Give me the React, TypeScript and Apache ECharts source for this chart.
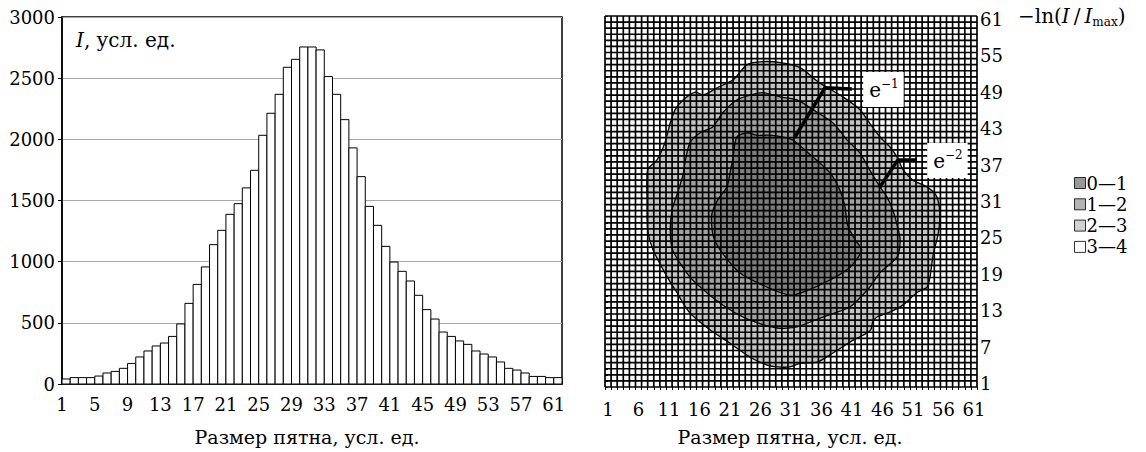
import React, { useEffect, useRef } from 'react';
import * as echarts from 'echarts';

const FONT = '"DejaVu Serif", "Liberation Serif", serif';
const FS = 18;

// Left histogram: spot size 1..61 and intensity (arb. units)
const SIZE_CATEGORIES = Array.from({ length: 61 }, (_, i) => String(i + 1));
const INTENSITY = [
  41, 52, 52, 52, 65, 90, 103, 128, 168, 221,
  270, 311, 335, 389, 491, 659, 814, 957, 1139, 1256,
  1387, 1474, 1603, 1747, 2033, 2213, 2368, 2589, 2654, 2755,
  2755, 2731, 2513, 2368, 2161, 1930, 1695, 1452, 1297, 1125,
  997, 921, 842, 725, 608, 531, 425, 389, 352, 324,
  270, 245, 221, 180, 128, 114, 90, 62, 62, 52, 52,
];
const Y_MAX = 3000;
const Y_STEP = 500;

// Right contour map: boundaries (in cell units, 0..61) of the -ln(I/Imax) levels
const LEVEL_NAMES = ['0—1', '1—2', '2—3', '3—4'];
const LEVEL_COLORS = ['#7e7e7e', '#a2a2a2', '#c6c6c6', '#ffffff'];
const CONTOUR_2 = [
  [25.9, 53.5], [29.0, 53.3], [32.0, 52.5], [35.2, 50.0], [39.0, 47.7], [41.8, 45.6],
  [43.4, 43.4], [45.1, 41.1], [46.7, 39.5], [47.9, 37.8], [48.9, 35.7], [50.5, 34.0],
  [52.8, 32.9], [54.4, 31.3], [54.9, 28.3], [54.6, 25.0], [53.8, 21.7], [53.3, 18.1],
  [52.8, 16.4], [51.1, 15.5], [48.9, 13.5], [46.7, 12.3], [44.6, 11.5], [43.9, 10.7],
  [43.6, 9.4], [43.0, 8.9], [40.7, 7.7], [37.4, 5.6], [34.8, 4.1], [32.0, 3.9],
  [30.3, 3.3], [28.2, 3.3], [26.6, 3.6], [23.8, 4.9], [20.5, 7.2], [17.2, 9.4],
  [13.9, 12.2], [11.8, 15.5], [10.2, 18.1], [7.9, 22.5], [7.0, 25.8], [6.9, 30.8],
  [7.0, 35.7], [8.5, 37.3], [9.8, 40.1], [10.7, 43.4], [11.5, 45.6], [12.8, 47.2],
  [14.8, 48.5], [16.1, 48.0], [18.4, 49.2], [21.0, 50.5], [23.3, 53.0],
];
const CONTOUR_1 = [
  [23.8, 48.0], [25.9, 48.4], [28.7, 47.7], [31.5, 47.2], [34.1, 45.6], [37.4, 43.4],
  [39.7, 40.6], [41.8, 38.5], [43.4, 35.7], [45.1, 32.9], [46.2, 31.3], [47.2, 29.1],
  [47.9, 26.6], [48.4, 24.2], [47.9, 21.4], [45.1, 18.8], [43.4, 16.4], [40.2, 13.2],
  [35.7, 11.5], [31.5, 9.9], [28.2, 9.7], [23.8, 11.0], [20.5, 12.7], [17.2, 15.1],
  [13.9, 18.1], [11.1, 22.5], [10.7, 25.8], [11.0, 29.1], [11.8, 31.6], [12.8, 34.9],
  [13.1, 36.8], [13.9, 40.1], [15.6, 41.8], [17.7, 42.8], [19.3, 45.1], [21.6, 47.2],
];
const CONTOUR_0 = [
  [23.3, 41.8], [24.9, 41.4], [27.0, 41.4], [29.2, 41.1], [30.8, 40.6], [34.1, 37.8],
  [36.9, 35.2], [38.5, 32.4], [39.3, 29.9], [39.8, 26.6], [41.0, 24.2], [42.1, 22.5],
  [40.2, 19.7], [36.9, 17.6], [32.5, 15.6], [30.3, 15.1], [26.6, 16.4], [22.1, 18.8],
  [18.9, 22.5], [17.7, 25.0], [17.5, 28.3], [18.5, 30.8], [20.0, 32.9], [20.5, 35.2],
  [21.0, 37.8], [21.6, 41.1],
];
// annotation leaders and label anchors (cell units)
const LEADER_E1 = [[31.15, 41.1], [36.07, 49.18], [40.49, 49.01]];
const LEADER_E2 = [[45.08, 32.89], [48.03, 37.34], [51.15, 37.34]];
const LABEL_E1 = [45.66, 48.9];
const LABEL_E2 = [56.15, 37.25];
const MAP_N = 61;

export default function App() {
  const ref = useRef<HTMLDivElement>(null);
  useEffect(() => {
    if (!ref.current) return;
    const chart = echarts.init(ref.current, null, { renderer: 'svg' });

    const supRich = {
      e: { fontSize: 20, fontFamily: FONT, color: '#000', lineHeight: 24 },
      s: { fontSize: 12, fontFamily: FONT, color: '#000', verticalAlign: 'top', lineHeight: 13 },
    };

    const option: any = {
      animation: false,
      backgroundColor: '#fff',
      textStyle: { fontFamily: FONT },
      grid: [
        { left: 62, top: 17, width: 500, height: 367, show: true, borderColor: '#000', borderWidth: 1.5, backgroundColor: 'transparent' },
        { left: 605, top: 16, width: 372, height: 371, show: false },
      ],
      xAxis: [
        {
          gridIndex: 0, type: 'value', min: 0, max: SIZE_CATEGORIES.length, interval: 4,
          axisLine: { show: true, lineStyle: { color: '#000', width: 1.5 } },
          axisTick: { show: true, inside: true, length: 3, lineStyle: { color: '#000' } },
          axisLabel: {
            fontSize: FS, fontFamily: FONT, color: '#000', margin: 11,
            formatter: (v: number) => (v % 4 === 0 && v < SIZE_CATEGORIES.length ? SIZE_CATEGORIES[v] : ''),
          },
          splitLine: { show: false },
        },
        {
          gridIndex: 1, type: 'value', min: 0, max: MAP_N, interval: 1,
          axisLine: { show: false },
          axisTick: { show: true, length: 3, lineStyle: { color: '#000', width: 1 } },
          axisLabel: { show: false },
          splitLine: { show: false },
        },
        {
          gridIndex: 1, type: 'category', position: 'bottom', data: SIZE_CATEGORIES,
          axisLine: { show: false }, axisTick: { show: false },
          axisLabel: { interval: 4, fontSize: FS, fontFamily: FONT, color: '#000', margin: 13 },
          splitLine: { show: false },
        },
      ],
      yAxis: [
        {
          gridIndex: 0, type: 'value', min: 0, max: Y_MAX, interval: Y_STEP,
          axisLine: { show: true, lineStyle: { color: '#000', width: 1.5 } },
          axisTick: { show: true, length: 4, lineStyle: { color: '#000' } },
          axisLabel: { fontSize: FS, fontFamily: FONT, color: '#000', margin: 7, formatter: (v: number) => String(v) },
          splitLine: { show: true, lineStyle: { color: '#a8a8a8', width: 1 } },
        },
        {
          gridIndex: 1, type: 'value', min: 0, max: MAP_N, interval: 1, position: 'right',
          axisLine: { show: false },
          axisTick: { show: true, length: 3, lineStyle: { color: '#000', width: 1 } },
          axisLabel: { show: false },
          splitLine: { show: false },
        },
        {
          gridIndex: 1, type: 'category', position: 'right', data: SIZE_CATEGORIES,
          axisLine: { show: false }, axisTick: { show: false },
          axisLabel: { interval: 5, fontSize: FS, fontFamily: FONT, color: '#000', margin: 3 },
          splitLine: { show: false },
        },
      ],
      legend: {
        orient: 'vertical', left: 1074, top: 174, padding: 0, icon: 'rect', itemWidth: 11, itemHeight: 11, itemGap: 3.3,
        selectedMode: false,
        itemStyle: { borderColor: '#000', borderWidth: 1 },
        textStyle: { fontFamily: FONT, fontSize: FS, color: '#000', padding: [0, 0, 0, -4] },
        data: LEVEL_NAMES,
      },
      graphic: [
        {
          type: 'text', left: 76, top: 30,
          style: {
            text: '{i|I}{n|, усл. ед.}',
            rich: {
              i: { fontSize: 20, fontFamily: FONT, fontStyle: 'italic', fill: '#000' },
              n: { fontSize: 20, fontFamily: FONT, fill: '#000' },
            },
          },
        },
        {
          type: 'text', left: 1018, top: 6,
          style: {
            text: '{n|−ln(}{i|I}{n|\u2009/\u2009}{i|I}{s|max}{n|)}',
            rich: {
              n: { fontSize: 20, fontFamily: FONT, fill: '#000', lineHeight: 23 },
              i: { fontSize: 20, fontFamily: FONT, fontStyle: 'italic', fill: '#000', lineHeight: 23 },
              s: { fontSize: 12, fontFamily: FONT, fill: '#000', verticalAlign: 'bottom', lineHeight: 14 },
            },
          },
        },
        {
          type: 'text', x: 307, y: 437,
          style: { text: 'Размер пятна, усл. ед.', font: `19px ${FONT}`, fill: '#000', align: 'center', verticalAlign: 'middle' },
        },
        {
          type: 'text', x: 790, y: 437,
          style: { text: 'Размер пятна, усл. ед.', font: `19px ${FONT}`, fill: '#000', align: 'center', verticalAlign: 'middle' },
        },
      ],
      series: [
        {
          type: 'custom', name: 'I', xAxisIndex: 0, yAxisIndex: 0,
          data: INTENSITY.map((v, i) => [i, v]),
          encode: { x: 0, y: 1 },
          renderItem: (params: any, api: any) => {
            const x = api.value(0);
            const v = api.value(1);
            const p0 = api.coord([x, v]);
            const p1 = api.coord([x + 1, 0]);
            return {
              type: 'rect',
              shape: { x: p0[0], y: p0[1], width: p1[0] - p0[0], height: p1[1] - p0[1] },
              style: { fill: '#fff', stroke: '#000', lineWidth: 1 },
            };
          },
        },
        {
          type: 'custom', name: 'map', xAxisIndex: 1, yAxisIndex: 1,
          data: [[0, 0]],
          encode: { x: 0, y: 1 },
          silent: true,
          renderItem: (params: any, api: any) => {
            const pts = (arr: number[][]) => arr.map((p) => api.coord(p));
            const children: any[] = [];
            const fills: [number[][], string][] = [
              [CONTOUR_2, LEVEL_COLORS[2]],
              [CONTOUR_1, LEVEL_COLORS[1]],
              [CONTOUR_0, LEVEL_COLORS[0]],
            ];
            fills.forEach(([c, col]) => {
              children.push({ type: 'polygon', shape: { points: pts(c), smooth: 0.25 }, style: { fill: col, stroke: 'none' } });
            });
            for (let k = 0; k <= MAP_N; k++) {
              const a = api.coord([k, 0]);
              const b = api.coord([k, MAP_N]);
              children.push({ type: 'line', shape: { x1: a[0], y1: a[1], x2: b[0], y2: b[1] }, style: { stroke: '#000', lineWidth: 1.7 } });
              const c = api.coord([0, k]);
              const d = api.coord([MAP_N, k]);
              children.push({ type: 'line', shape: { x1: c[0], y1: c[1], x2: d[0], y2: d[1] }, style: { stroke: '#000', lineWidth: 1.7 } });
            }
            [CONTOUR_2, CONTOUR_1, CONTOUR_0].forEach((c) => {
              children.push({ type: 'polygon', shape: { points: pts(c), smooth: 0.25 }, style: { fill: null, stroke: '#000', lineWidth: 1.3 } });
            });
            [LEADER_E1, LEADER_E2].forEach((l) => {
              children.push({ type: 'polyline', shape: { points: pts(l) }, style: { fill: null, stroke: '#000', lineWidth: 3.5 } });
            });
            const lab = (p: number[], t: string) => {
              const c = api.coord(p);
              children.push({
                type: 'text', x: c[0], y: c[1],
                style: {
                  text: `{e|e}{s|${t}}`, rich: supRich, align: 'center', verticalAlign: 'middle',
                  backgroundColor: '#fff', padding: [6, 5, 5, 6],
                },
              });
            };
            lab(LABEL_E1, '−1');
            lab(LABEL_E2, '−2');
            return { type: 'group', children };
          },
        },
        ...LEVEL_NAMES.map((n, i) => ({
          type: 'scatter', name: n, xAxisIndex: 1, yAxisIndex: 1, data: [],
          itemStyle: { color: LEVEL_COLORS[i], borderColor: '#000', borderWidth: 1 },
        })),
      ],
    };
    chart.setOption(option);
    return () => chart.dispose();
  }, []);
  return (
    <div
      ref={ref}
      style={{ position: 'fixed', left: 0, top: 0, width: 1146, height: 452, background: '#fff' }}
    />
  );
}
